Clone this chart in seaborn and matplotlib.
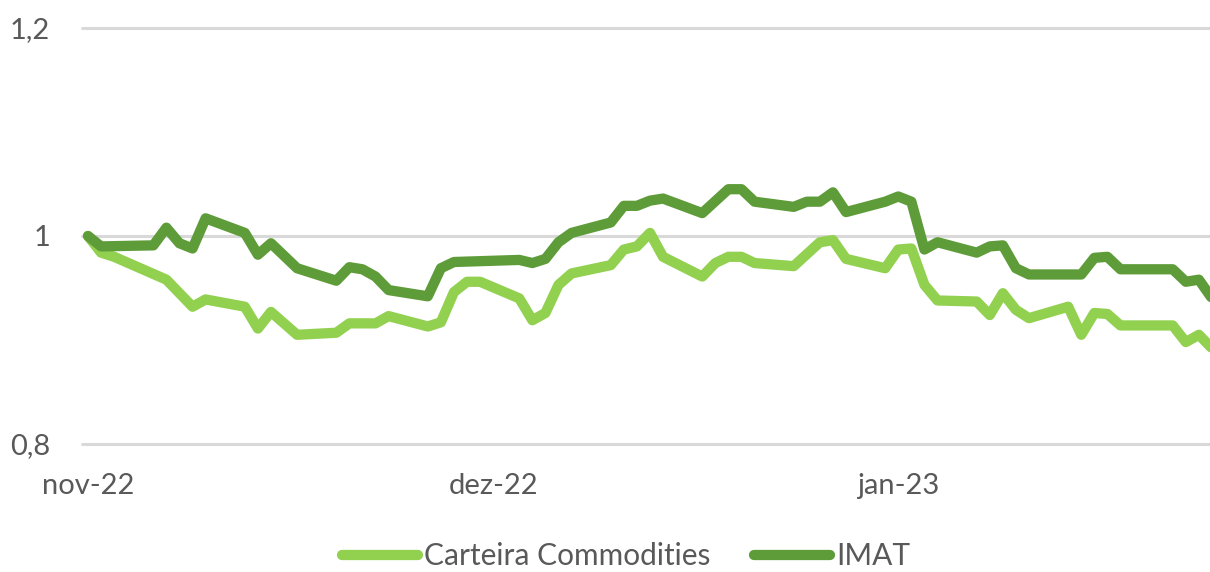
import matplotlib
matplotlib.use("Agg")
import matplotlib.pyplot as plt
import seaborn as sns
import pandas as pd

# series (business days, first point 02/11/2022)
carteira_datas = ["2022-11-02", "2022-11-03", "2022-11-04", "2022-11-08", "2022-11-10",
                  "2022-11-11", "2022-11-14", "2022-11-15", "2022-11-16", "2022-11-18",
                  "2022-11-21", "2022-11-22", "2022-11-24", "2022-11-25", "2022-11-28",
                  "2022-11-29", "2022-11-30", "2022-12-01", "2022-12-02", "2022-12-05",
                  "2022-12-06", "2022-12-07", "2022-12-08", "2022-12-09", "2022-12-12",
                  "2022-12-13", "2022-12-14", "2022-12-15", "2022-12-16", "2022-12-19",
                  "2022-12-20", "2022-12-21", "2022-12-22", "2022-12-23", "2022-12-26",
                  "2022-12-28", "2022-12-29", "2022-12-30", "2023-01-02", "2023-01-03",
                  "2023-01-04", "2023-01-05", "2023-01-06", "2023-01-09", "2023-01-10",
                  "2023-01-11", "2023-01-12", "2023-01-13", "2023-01-16", "2023-01-17",
                  "2023-01-18", "2023-01-19", "2023-01-20", "2023-01-24", "2023-01-25",
                  "2023-01-26", "2023-01-27"]
carteira_valores = [1.000, 0.984, 0.980, 0.958, 0.932,
                    0.939, 0.932, 0.911, 0.927, 0.905,
                    0.907, 0.916, 0.916, 0.923, 0.913,
                    0.917, 0.946, 0.956, 0.956, 0.940,
                    0.919, 0.926, 0.953, 0.964, 0.972,
                    0.987, 0.990, 1.003, 0.980, 0.961,
                    0.974, 0.980, 0.980, 0.974, 0.971,
                    0.994, 0.996, 0.978, 0.969, 0.987,
                    0.988, 0.953, 0.938, 0.937, 0.924,
                    0.945, 0.929, 0.921, 0.932, 0.905,
                    0.926, 0.925, 0.914, 0.914, 0.898,
                    0.905, 0.892]

imat_datas = ["2022-11-02", "2022-11-03", "2022-11-07", "2022-11-08", "2022-11-09",
              "2022-11-10", "2022-11-11", "2022-11-14", "2022-11-15", "2022-11-16",
              "2022-11-18", "2022-11-21", "2022-11-22", "2022-11-23", "2022-11-24",
              "2022-11-25", "2022-11-28", "2022-11-29", "2022-11-30", "2022-12-05",
              "2022-12-06", "2022-12-07", "2022-12-08", "2022-12-09", "2022-12-12",
              "2022-12-13", "2022-12-14", "2022-12-15", "2022-12-16", "2022-12-19",
              "2022-12-21", "2022-12-22", "2022-12-23", "2022-12-26", "2022-12-27",
              "2022-12-28", "2022-12-29", "2022-12-30", "2023-01-02", "2023-01-03",
              "2023-01-04", "2023-01-05", "2023-01-06", "2023-01-09", "2023-01-10",
              "2023-01-11", "2023-01-12", "2023-01-13", "2023-01-17", "2023-01-18",
              "2023-01-19", "2023-01-20", "2023-01-24", "2023-01-25", "2023-01-26",
              "2023-01-27"]
imat_valores = [1.000, 0.990, 0.991, 1.008, 0.993,
                0.988, 1.017, 1.003, 0.982, 0.993,
                0.969, 0.957, 0.970, 0.968, 0.961,
                0.948, 0.942, 0.969, 0.975, 0.977,
                0.974, 0.978, 0.994, 1.003, 1.013,
                1.029, 1.029, 1.034, 1.036, 1.022,
                1.045, 1.045, 1.033, 1.028, 1.033,
                1.033, 1.042, 1.023, 1.033, 1.038,
                1.033, 0.987, 0.994, 0.984, 0.990,
                0.991, 0.969, 0.963, 0.963, 0.979,
                0.980, 0.968, 0.968, 0.956, 0.958,
                0.940]

series_nomes = ["Carteira Commodities", "IMAT"]
cores = ["#92D050", "#5E9C3A"]

ticks_x = ["2022-11-02", "2022-12-03", "2023-01-03"]
rotulos_x = ["nov-22", "dez-22", "jan-23"]
ticks_y = [0.8, 1.0, 1.2]
rotulos_y = ["0,8", "1", "1,2"]

df = pd.concat([
    pd.DataFrame({"data": pd.to_datetime(carteira_datas), "valor": carteira_valores, "serie": series_nomes[0]}),
    pd.DataFrame({"data": pd.to_datetime(imat_datas), "valor": imat_valores, "serie": series_nomes[1]}),
], ignore_index=True)

sns.set_theme(style="white")
plt.rcParams["font.family"] = ["Lato", "DejaVu Sans"]
cinza = "#595959"

W, H = 1210, 572
fig = plt.figure(figsize=(W / 100, H / 100), dpi=100)
ax = fig.add_axes([82 / W, 1 - 444 / H, 1 - 82 / W, (444 - 28) / H])

sns.lineplot(data=df, x="data", y="valor", hue="serie", hue_order=series_nomes,
             palette=cores, linewidth=7.4, ax=ax,
             solid_capstyle="round", solid_joinstyle="round")

inicio = pd.Timestamp(carteira_datas[0])
ax.set_xlim(inicio - pd.Timedelta(hours=11), inicio + pd.Timedelta(days=85.85))
ax.set_ylim(0.8, 1.2)

ax.set_xticks(pd.to_datetime(ticks_x))
ax.set_xticklabels(rotulos_x)
ax.set_yticks(ticks_y)
ax.set_yticklabels(rotulos_y)
ax.tick_params(axis="x", length=0, pad=21, labelsize=21, labelcolor=cinza)
ax.tick_params(axis="y", length=0, pad=23, labelsize=21, labelcolor=cinza)
ax.set_xlabel("")
ax.set_ylabel("")

for s in ax.spines.values():
    s.set_visible(False)
ax.grid(axis="y", color="#D9D9D9", linewidth=2.2)
ax.grid(axis="x", visible=False)
ax.set_axisbelow(True)
for gl in ax.get_ygridlines():
    gl.set_clip_on(False)

handles, labels = ax.get_legend_handles_labels()
ax.get_legend().remove()
leg = fig.legend(handles, labels, loc="center", bbox_to_anchor=(626 / W, 1 - 556 / H),
                 ncol=2, frameon=False, fontsize=21.5, handlelength=2.55,
                 handletextpad=0.2, columnspacing=1.45, borderaxespad=0, borderpad=0)
for t in leg.get_texts():
    t.set_color(cinza)

fig.savefig("out.png", dpi=100)
